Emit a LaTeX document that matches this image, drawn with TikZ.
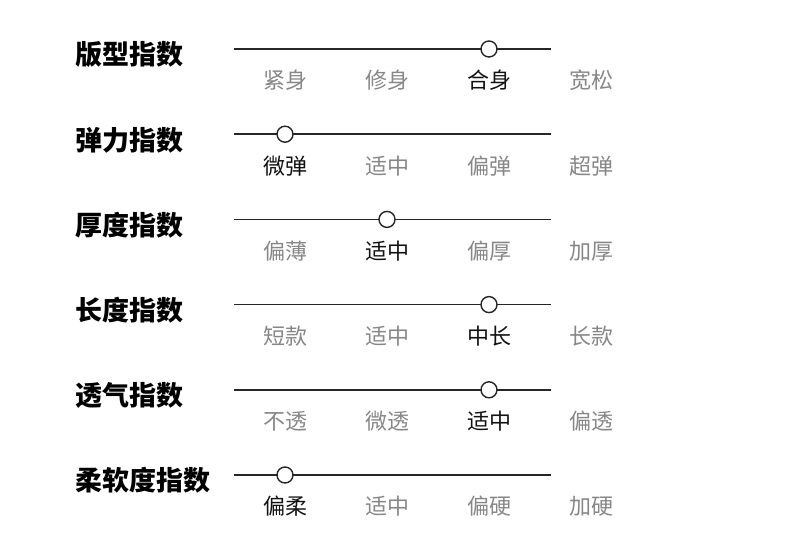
\documentclass[tikz,border=0pt]{standalone}
\usepackage{fontspec}
\setmainfont{Noto Sans CJK SC}
\begin{document}
\begin{tikzpicture}[x=1pt,y=-1pt,
  titlelbl/.style={anchor=west,inner sep=0pt,font=\fontsize{27}{27}\selectfont\bfseries,text height=0.76em,text depth=0pt,text=black},
  optlbl/.style={inner sep=0pt,font=\fontsize{22}{22}\selectfont,text height=0.76em,text depth=0pt,text=black!47},
  optsel/.style={optlbl,text=black!93},
  track/.style={line width=1.7pt,draw=black!85},
  knob/.style={circle,draw=black!85,line width=1.4pt,fill=white,minimum size=16pt,inner sep=0pt}]
\useasboundingbox (0,0) rectangle (790,554);
\foreach \t/\a/\b/\c/\d/\s [count=\i from 0] in {
  版型指数/紧身/修身/合身/宽松/2,
  弹力指数/微弹/适中/偏弹/超弹/0,
  厚度指数/偏薄/适中/偏厚/加厚/1,
  长度指数/短款/适中/中长/长款/2,
  透气指数/不透/微透/适中/偏透/2,
  柔软度指数/偏柔/适中/偏硬/加硬/0}{
  \pgfmathsetmacro{\yy}{49+85.2*\i}
  \node[titlelbl] (t\i) at (75.5,\yy+12) {\t};
  \coordinate (l\i) at (234,\yy);
  \coordinate (r\i) at (551,\yy);
  \draw[track] (l\i) -- (r\i);
  \foreach \lab [count=\j from 0] in {\a,\b,\c,\d}{
    \ifnum\j=\s
      \node[optsel] (o\i\j) at (285+102*\j,\yy+36) {\lab};
    \else
      \node[optlbl] (o\i\j) at (285+102*\j,\yy+36) {\lab};
    \fi
  }
  \node[knob] (k\i) at (285+102*\s,\yy) {};
}
\end{tikzpicture}
\end{document}
